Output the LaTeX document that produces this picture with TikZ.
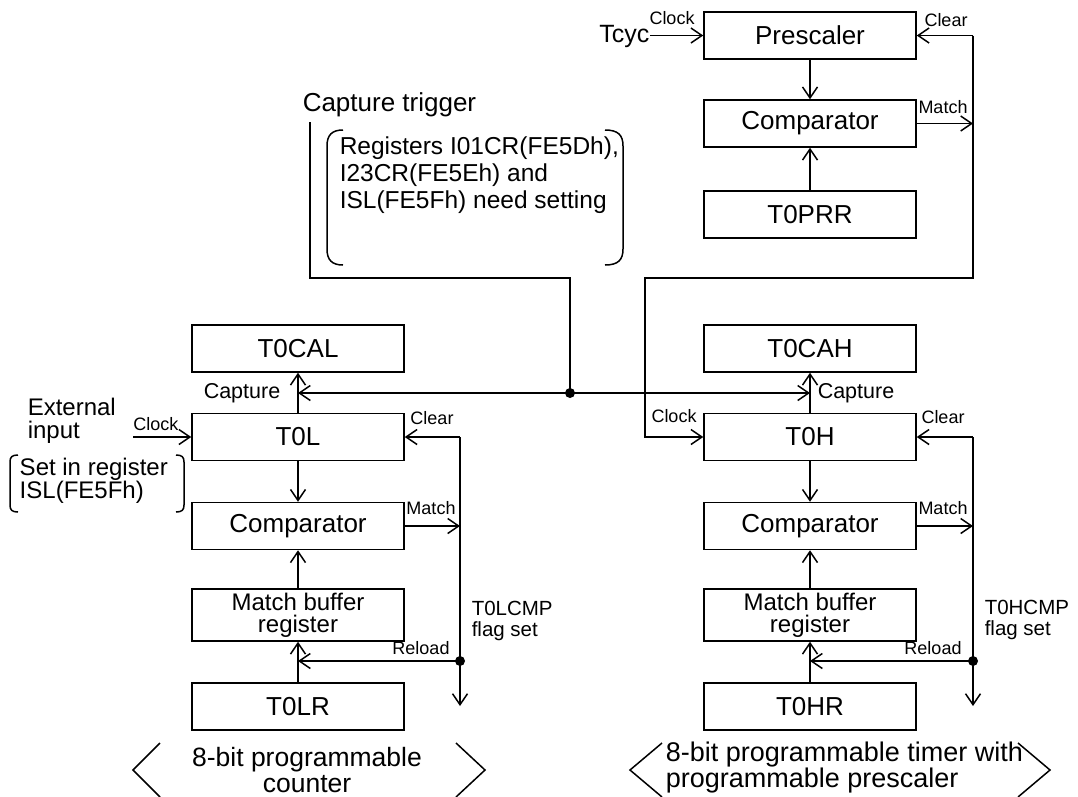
\documentclass[tikz,border=0pt]{standalone}
\usepackage{fontspec}
\setmainfont{Liberation Sans}
\usetikzlibrary{arrows.meta}
\newcommand\txtsz[2]{\fontsize{#1}{#2}\selectfont}
\begin{document}
\begin{tikzpicture}[x=1pt,y=-1pt,line width=1.5pt,line join=miter,
  box/.style={draw,minimum width=212pt,minimum height=47pt,inner sep=0pt,font=\txtsz{26}{28}},
  mbuf/.style={box,minimum height=52pt,align=center,font=\txtsz{24}{22}},
  lbl/.style={inner sep=0pt,font=\txtsz{18}{18}},
  caplbl/.style={inner sep=0pt,font=\txtsz{21.5}{22}},
  note/.style={inner sep=0pt,align=left},
  arr/.style={-{Straight Barb[length=11pt,width=15pt,line width=1.5pt]}},
  dot/.style={fill=black}]
\useasboundingbox (0,0) rectangle (1078,796);
\fill[white] (0,0) rectangle (1078,796);

% ---- prescaler block ----
\node[box] (pre)  at (810,35.5)  {Prescaler};
\node[box] (cmpP) at (810,123.5) {Comparator};
\node[box] (prr)  at (810,214.5) {T0PRR};

% ---- high byte timer ----
\node[box]  (cah)  at (810,348.5) {T0CAH};
\node[box]  (th)   at (810,437)   {T0H};
\node[box]  (cmpH) at (810,526)   {Comparator};
\node[mbuf] (mbH)  at (810,615)   {Match buffer\\register};
\node[box]  (thr)  at (810,706.5) {T0HR};

% ---- low byte counter ----
\node[box]  (cal)  at (298,348.5) {T0CAL};
\node[box]  (tl)   at (298,437)   {T0L};
\node[box]  (cmpL) at (298,526)   {Comparator};
\node[mbuf] (mbL)  at (298,615)   {Match buffer\\register};
\node[box]  (tlr)  at (298,706.5) {T0LR};

% ---- clock source of the prescaler ----
\node[inner sep=0pt,anchor=east,font=\txtsz{25}{25}] (tcyc) at (650,36) {Tcyc};
\draw[arr] (tcyc.east |- pre.west) -- (pre.west);
\node[lbl] (clkP) at (672,18) {Clock};
\draw[arr] (pre.south) -- (cmpP.north);
\draw[arr] (prr.north) -- (cmpP.south);

% prescaler clear loop and clock feed to T0H
\coordinate (rt) at (973,35.5);
\coordinate (rb) at (973,278);
\coordinate (lb) at (645,278);
\draw[arr] (rt) -- (pre.east);
\draw[arr] (cmpP.east) -- (cmpP.east -| rt);
\draw[arr] (rt) -- (rb) -- (lb) |- (th.west);
\node[lbl] (clrP) at (946,20)  {Clear};
\node[lbl] (matP) at (943,107) {Match};
\node[lbl] (clkH) at (674,416) {Clock};

% ---- capture trigger ----
\node[inner sep=0pt,anchor=west,font=\txtsz{26}{28}] (ctrig) at (302,105) {Capture trigger};
\coordinate (ct1) at (310,122);
\coordinate (ct2) at (310,278);
\coordinate (jn)  at (570,393);
\draw (ct1) -- (ct2) -| (jn);
\draw[arr] (jn) -- (cal.south |- jn);
\draw[arr] (jn) -- (cah.south |- jn);
\fill[dot] (jn) circle (5pt);
\draw[arr] (tl.north) -- (cal.south);
\draw[arr] (th.north) -- (cah.south);
\node[caplbl,anchor=east] (capL) at (281,393) {Capture};
\node[caplbl,anchor=west] (capH) at (817,393) {Capture};

% register note with round brackets
\node[note,anchor=west,font=\txtsz{24.5}{27}] (regs) at (339,175)
  {Registers I01CR(FE5Dh),\\I23CR(FE5Eh) and\\ISL(FE5Fh) need setting};
\draw (343,130) .. controls (332,130) and (327,135) .. (327,146) -- (327,249)
  .. controls (327,260) and (332,265) .. (343,265);
\draw (605,130) .. controls (618,130) and (623,135) .. (623,146) -- (623,249)
  .. controls (623,260) and (618,265) .. (605,265);

% ---- low byte counter connections ----
\node[note,anchor=west,font=\txtsz{24}{23}] (extin) at (27,421) {External\\input};
\coordinate (clkin) at (133,437);
\draw[arr] (clkin) -- (tl.west);
\node[lbl] (clkL) at (156,424) {Clock};
\node[note,anchor=west,font=\txtsz{24}{23}] (isl) at (19,481) {Set in register\\ISL(FE5Fh)};
\draw (18,455) .. controls (12,455) and (10,457) .. (10,462) -- (10,505)
  .. controls (10,510) and (12,512) .. (18,512);
\draw (176,455) .. controls (182,455) and (184,457) .. (184,462) -- (184,505)
  .. controls (184,510) and (182,512) .. (176,512);

\draw[arr] (tl.south) -- (cmpL.north);
\draw[arr] (mbL.north) -- (cmpL.south);
\draw[arr] (tlr.north) -- (mbL.south);
\coordinate (lclr) at (460,437);
\coordinate (ldot) at (460,661);
\coordinate (lend) at (460,706);
\draw[arr] (lclr) -- (tl.east);
\draw[arr] (cmpL.east) -- (cmpL.east -| lclr);
\draw (lclr) -- (ldot);
\draw[arr] (ldot) -- (lend);
\draw[arr] (ldot) -- (ldot -| tlr.north);
\fill[dot] (ldot) circle (5pt);
\node[lbl] (clrL) at (432,418) {Clear};
\node[lbl] (matL) at (431,508) {Match};
\node[lbl] (relL) at (421,648) {Reload};
\node[note,anchor=west,font=\txtsz{20.5}{20.5}] (flagL) at (471,621) {T0LCMP\\flag set};

% ---- high byte timer connections ----
\draw[arr] (th.south) -- (cmpH.north);
\draw[arr] (mbH.north) -- (cmpH.south);
\draw[arr] (thr.north) -- (mbH.south);
\coordinate (hclr) at (973,437);
\coordinate (hdot) at (973,661);
\coordinate (hend) at (973,706);
\draw[arr] (hclr) -- (th.east);
\draw[arr] (cmpH.east) -- (cmpH.east -| hclr);
\draw (hclr) -- (hdot);
\draw[arr] (hdot) -- (hend);
\draw[arr] (hdot) -- (hdot -| thr.north);
\fill[dot] (hdot) circle (5pt);
\node[lbl] (clrH) at (943,417) {Clear};
\node[lbl] (matH) at (943,508) {Match};
\node[lbl] (relH) at (933,648) {Reload};
\node[note,anchor=west,font=\txtsz{20.5}{20.5}] (flagH) at (984,620) {T0HCMP\\flag set};

% ---- block captions ----
\node[align=center,inner sep=0pt,font=\txtsz{26.5}{26}] (capcnt) at (307,770) {8-bit programmable\\counter};
\draw (160,743) -- (133,770) -- (160,797);
\draw (456,743) -- (485,770) -- (456,797);
\node[note,anchor=west,font=\txtsz{27}{26}] (captmr) at (665,768) {8-bit programmable timer with\\programmable prescaler};
\draw (662,743) -- (630,770) -- (662,797);
\draw (1018,743) -- (1050,770) -- (1018,797);
\end{tikzpicture}
\end{document}
